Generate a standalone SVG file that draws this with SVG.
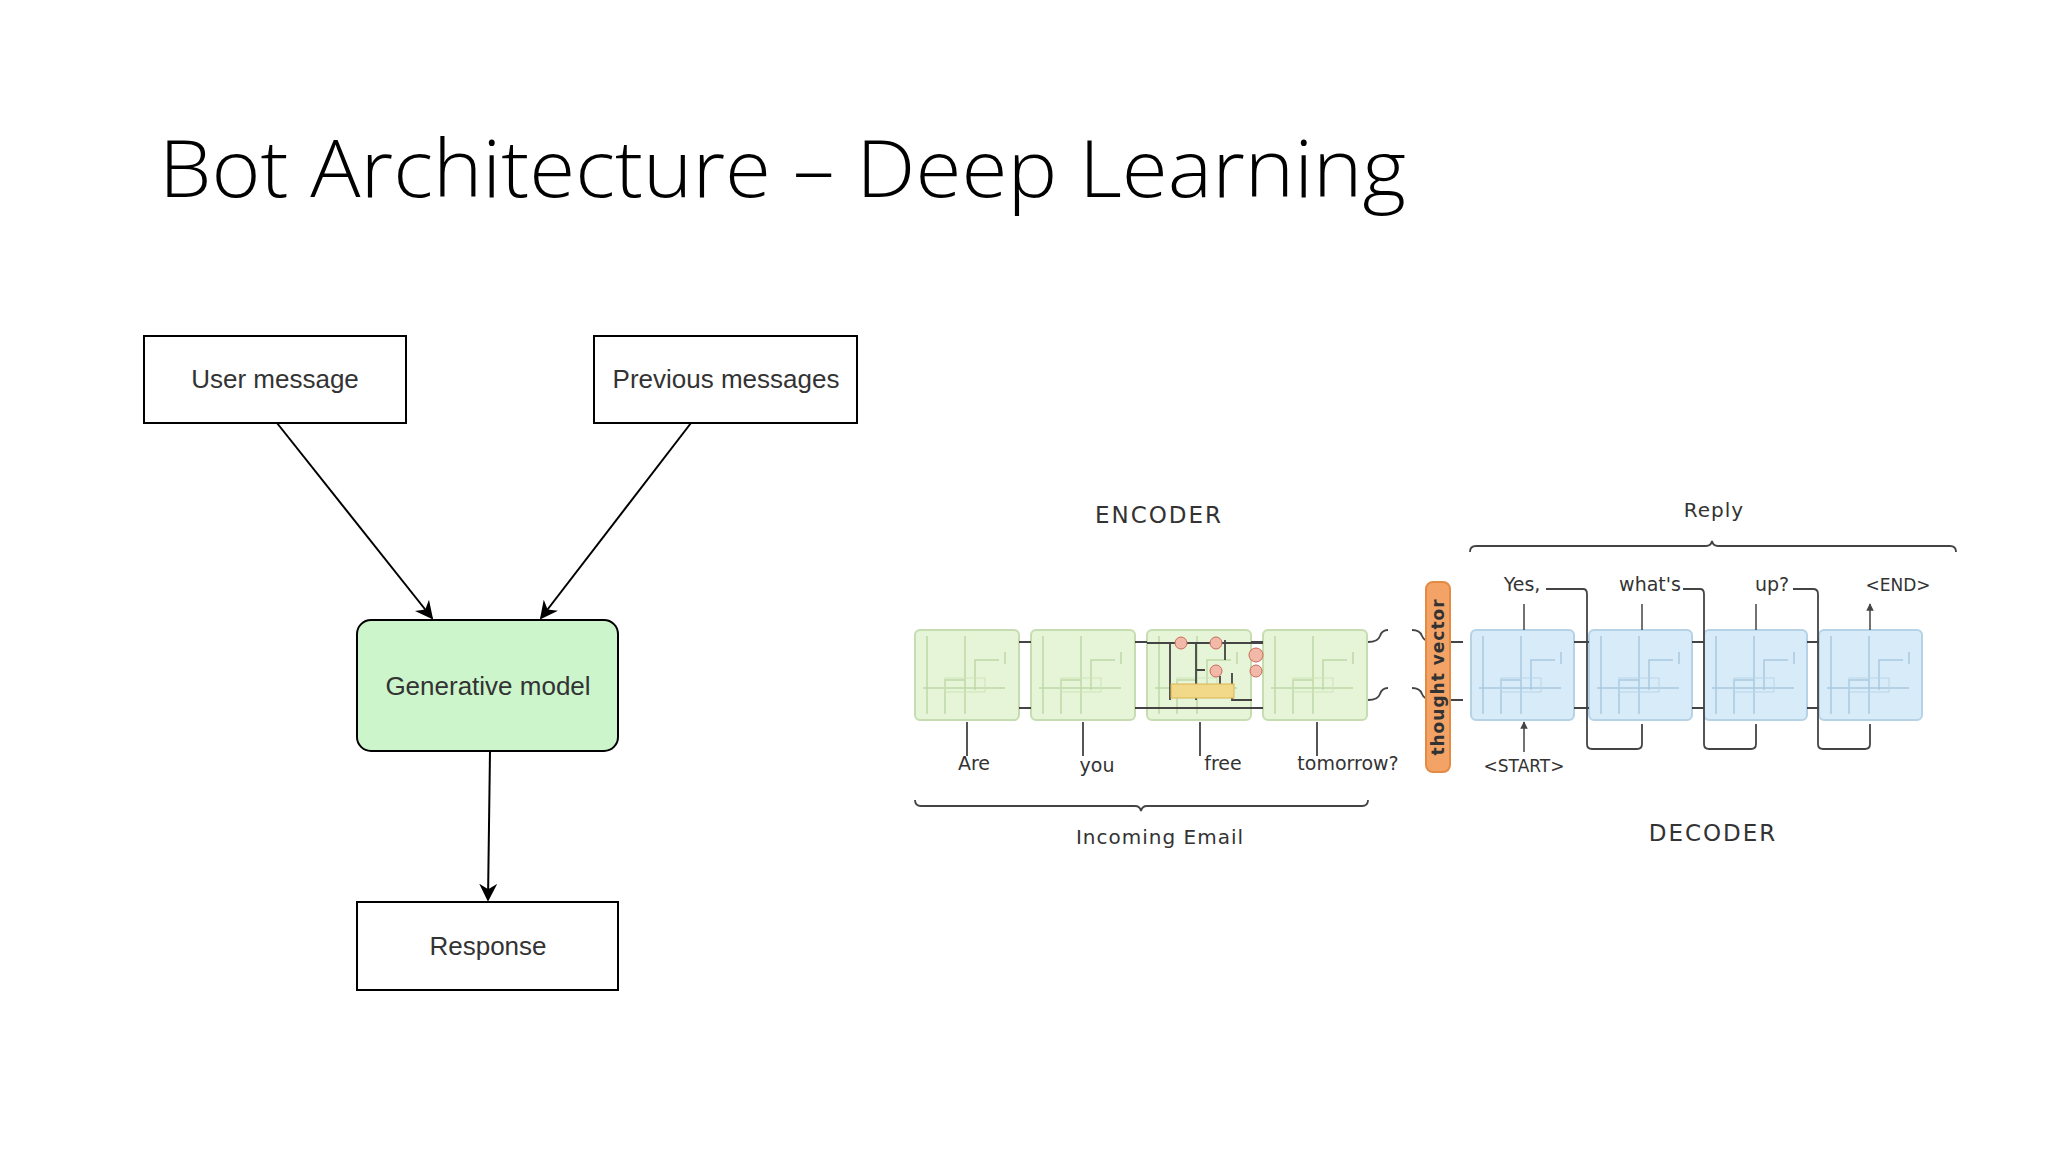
<svg xmlns="http://www.w3.org/2000/svg" width="2048" height="1152" viewBox="0 0 2048 1152">
<style>
.box{fill:#fff;stroke:#000;stroke-width:2}
.lbl{font-family:"Liberation Sans",Arial,sans-serif;font-size:26px;fill:#333;text-anchor:middle}
.t{font-family:"DejaVu Sans",sans-serif;fill:#333;text-anchor:middle}
.edge{stroke:#000;stroke-width:2;fill:none;marker-end:url(#ah)}
.enc{fill:#e6f4d8;stroke:#c5ddb0;stroke-width:2}
.dec{fill:#d8ebf8;stroke:#b5d2e6;stroke-width:2}
.in{stroke-width:1.5;fill:none}
.gi{stroke:#bfd8a6}
.bi{stroke:#a9c9df}
.dk{stroke:#444;stroke-width:1.8;fill:none}
.sm{stroke:#444;stroke-width:1.5;fill:none;marker-end:url(#sa)}
</style>
<defs>
<marker id="ah" viewBox="0 0 10 10" refX="9" refY="5" markerWidth="9" markerHeight="9" orient="auto"><path d="M0,0 L10,5 L0,10 L3,5 z" fill="#000"/></marker>
<marker id="sa" viewBox="0 0 10 10" refX="9" refY="5" markerWidth="5" markerHeight="5" orient="auto"><path d="M0,0 L10,5 L0,10 z" fill="#444"/></marker>
<g id="ecell"><rect class="enc" x="0" y="0" width="104" height="90" rx="5"/><path class="in gi" d="M12,6V84M50,6V84M8,58H90M30,84V50H50M60,60V30H84M90,22v12"/><rect x="30" y="48" width="40" height="14" fill="none" stroke="#cde3b8"/></g>
<g id="dcell"><rect class="dec" x="0" y="0" width="103" height="90" rx="5"/><path class="in bi" d="M12,6V84M50,6V84M8,58H90M30,84V50H50M60,60V30H84M90,22v12"/><rect x="30" y="48" width="40" height="14" fill="none" stroke="#b9d5e8"/></g>
</defs>
<rect width="2048" height="1152" fill="#fff"/>
<text x="159" y="197" font-family="'Open Sans','Liberation Sans',sans-serif" font-weight="300" font-size="80" fill="#000" textLength="1247" lengthAdjust="spacingAndGlyphs">Bot Architecture – Deep Learning</text>

<g id="connectors">
<path class="edge" d="M277,423 L432,618"/>
<path class="edge" d="M691,423 L541,618"/>
<path class="edge" d="M490,751 L488,900"/>
</g>
<g id="user"><rect class="box" x="144" y="336" width="262" height="87"/><text class="lbl" x="275" y="388">User message</text></g>
<g id="prev"><rect class="box" x="594" y="336" width="263" height="87"/><text class="lbl" x="726" y="388">Previous messages</text></g>
<g id="gen"><rect x="357" y="620" width="261" height="131" rx="14" fill="#ccf5cc" stroke="#000" stroke-width="2"/><text class="lbl" x="488" y="695">Generative model</text></g>
<g id="resp"><rect class="box" x="357" y="902" width="261" height="88"/><text class="lbl" x="488" y="955">Response</text></g>

<g id="seq2seq">
<text class="t" x="1159" y="523" font-size="23" letter-spacing="2">ENCODER</text>
<use href="#ecell" x="915" y="630"/>
<use href="#ecell" x="1031" y="630"/>
<use href="#ecell" x="1147" y="630"/>
<use href="#ecell" x="1263" y="630"/>
<g>
<path class="dk" d="M1147,643H1263M1147,708H1263M1170,643V700M1196,643V700M1196,670H1205M1220,690V676M1225,640V660M1232,673V700H1252" stroke="#7a9c5a"/>
<rect x="1171" y="684" width="63" height="14" fill="#f2d98a" stroke="#d9b550"/>
<circle cx="1181" cy="643" r="6" fill="#f2b8a8" stroke="#c86b5a"/>
<circle cx="1216" cy="643" r="6" fill="#f2b8a8" stroke="#c86b5a"/>
<circle cx="1216" cy="671" r="6" fill="#f2b8a8" stroke="#c86b5a"/>
<circle cx="1256" cy="655" r="7" fill="#f2b8a8" stroke="#c86b5a"/>
<circle cx="1256" cy="671" r="6" fill="#f2b8a8" stroke="#c86b5a"/>
</g>
<path class="dk" d="M1019,642H1031M1019,708H1031M1135,642H1147M1135,708H1147M1251,642H1263M1251,708H1263" stroke="#556"/>
<path class="dk" d="M967,756V722M1083,756V722M1200,756V722M1317,756V722"/>
<text class="t" x="974" y="770" font-size="19">Are</text>
<text class="t" x="1097" y="772" font-size="19">you</text>
<text class="t" x="1223" y="770" font-size="19">free</text>
<text class="t" x="1348" y="770" font-size="19">tomorrow?</text>
<path class="dk" d="M915,800q0,6 6,6H1135q5,0 6,5q1,-5 6,-5H1362q6,0 6,-6"/>
<text class="t" x="1160" y="844" font-size="20" letter-spacing="1">Incoming Email</text>

<path class="dk" d="M1368,642q10,0 12,-6t8,-6M1368,700q10,0 12,-6t8,-6M1412,630q8,0 10,6t12,6H1463M1412,688q8,0 10,6t12,6H1463"/>
<rect x="1426" y="582" width="24" height="190" rx="7" fill="#f4a366" stroke="#e38a44" stroke-width="2"/>
<text transform="translate(1444,677) rotate(-90)" class="t" font-size="17" font-weight="bold" fill="#5a3010" letter-spacing="1">thought vector</text>

<text class="t" x="1714" y="517" font-size="20" letter-spacing="1">Reply</text>
<path class="dk" d="M1470,552q0,-6 6,-6H1706q5,0 6,-5q1,5 6,5H1950q6,0 6,6"/>
<use href="#dcell" x="1471" y="630"/>
<use href="#dcell" x="1589" y="630"/>
<use href="#dcell" x="1704" y="630"/>
<use href="#dcell" x="1819" y="630"/>
<path class="dk" d="M1574,642H1589M1574,708H1589M1692,642H1704M1692,708H1704M1807,642H1819M1807,708H1819"/>
<path class="sm" d="M1524,630V604M1642,630V604M1756,630V604M1870,630V604"/>
<text class="t" x="1522" y="591" font-size="19">Yes,</text>
<text class="t" x="1650" y="591" font-size="19">what's</text>
<text class="t" x="1772" y="591" font-size="19">up?</text>
<text class="t" x="1898" y="591" font-size="17" fill="#999">&lt;END&gt;</text>
<path class="dk" d="M1546,589H1583Q1587,589 1587,594V744Q1587,749 1592,749H1637Q1642,749 1642,744V724"/>
<path class="dk" d="M1683,589H1700Q1704,589 1704,594V744Q1704,749 1709,749H1751Q1756,749 1756,744V724"/>
<path class="dk" d="M1793,589H1813Q1818,589 1818,594V744Q1818,749 1823,749H1865Q1870,749 1870,744V724"/>
<path class="sm" d="M1524,752V722"/>
<text class="t" x="1524" y="772" font-size="17" fill="#999">&lt;START&gt;</text>
<text class="t" x="1713" y="841" font-size="23" letter-spacing="2">DECODER</text>
</g>
</svg>
